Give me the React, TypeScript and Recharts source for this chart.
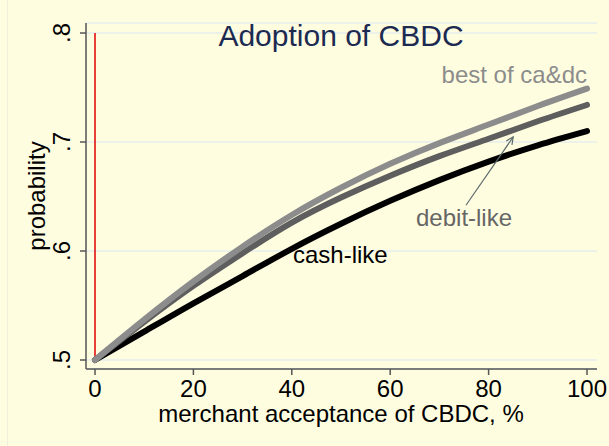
import { LineChart, Line, XAxis, YAxis, CartesianGrid, ReferenceLine } from 'recharts'

const acceptance = [0, 10, 20, 30, 40, 50, 60, 70, 80, 90, 100]
const cashLike = [0.5, 0.526, 0.552, 0.577, 0.602, 0.625, 0.646, 0.665, 0.682, 0.697, 0.71]
const debitLike = [0.5, 0.535, 0.568, 0.598, 0.626, 0.649, 0.669, 0.687, 0.703, 0.719, 0.734]
const bestOf = [0.5, 0.537, 0.572, 0.604, 0.633, 0.658, 0.68, 0.699, 0.716, 0.733, 0.749]

const xTicks = [0, 20, 40, 60, 80, 100]
const yTicks = [0.5, 0.6, 0.7, 0.8]

const data = acceptance.map((a, i) => ({
  acceptance: a,
  cash: cashLike[i],
  debit: debitLike[i],
  best: bestOf[i],
}))

const FONT = '"Liberation Sans", Arial, sans-serif'
const BG = '#FFFDE0'

const XTick = ({ x, y, payload }: any) => (
  <text x={x} y={y + 22} textAnchor="middle" fontSize={24} fontFamily={FONT} fill="#000">
    {payload.value}
  </text>
)

const YTick = ({ x, y, payload }: any) => (
  <text
    transform={`translate(${x - 10},${y}) rotate(-90)`}
    textAnchor="middle"
    fontSize={24}
    fontFamily={FONT}
    fill="#000"
  >
    {String(payload.value).replace(/^0/, '')}
  </text>
)

// arrow drawn from the segment end points given in data coords
const Arrow = (props: any) => {
  const { x1, y1, x2, y2 } = props
  const ang = Math.atan2(y2 - y1, x2 - x1)
  const len = 8
  const a1 = ang + Math.PI - 0.45
  const a2 = ang + Math.PI + 0.45
  return (
    <g stroke="#5b6b6b" strokeWidth={1.2} fill="none">
      <line x1={x1} y1={y1} x2={x2} y2={y2} />
      <polyline
        points={`${x2 + len * Math.cos(a1)},${y2 + len * Math.sin(a1)} ${x2},${y2} ${x2 + len * Math.cos(a2)},${y2 + len * Math.sin(a2)}`}
      />
    </g>
  )
}

export default function App() {
  return (
    <div style={{ position: 'absolute', left: 0, top: 0, width: 609, height: 446, background: BG }}>
      <div style={{ position: 'absolute', left: 7, top: 0, width: 1, height: 446, background: '#eef0dc' }} />
      <LineChart
        width={609}
        height={446}
        data={data}
        margin={{ top: 23, right: 12, bottom: 0, left: 0 }}
      >
        <CartesianGrid vertical={false} stroke="#e6ecec" strokeWidth={1.5} />
        <XAxis
          dataKey="acceptance"
          type="number"
          domain={[0, 100]}
          ticks={xTicks}
          padding={{ left: 9, right: 10 }}
          height={77}
          tickSize={6}
          tickMargin={0}
          stroke="#555"
          strokeWidth={1.5}
          tick={<XTick />}
          interval={0}
        />
        <YAxis
          type="number"
          domain={[0.5, 0.8]}
          ticks={yTicks}
          padding={{ top: 10, bottom: 9 }}
          width={86}
          tickSize={6}
          tickMargin={0}
          stroke="#555"
          strokeWidth={1.5}
          tick={<YTick />}
          interval={0}
        />
        <ReferenceLine
          segment={[{ x: 0, y: 0.5 }, { x: 0, y: 0.8 }]}
          stroke="#e00000"
          strokeWidth={1.5}
        />
        <Line
          dataKey="cash"
          type="natural"
          stroke="#000"
          strokeWidth={6}
          strokeLinecap="round"
          dot={false}
          isAnimationActive={false}
        />
        <Line
          dataKey="debit"
          type="natural"
          stroke="#5e5e5e"
          strokeWidth={6}
          strokeLinecap="round"
          dot={false}
          isAnimationActive={false}
        />
        <Line
          dataKey="best"
          type="natural"
          stroke="#8c8c8c"
          strokeWidth={6}
          strokeLinecap="round"
          dot={false}
          isAnimationActive={false}
        />
        <ReferenceLine
          segment={[{ x: 75.4, y: 0.642 }, { x: 85, y: 0.7046 }]}
          shape={<Arrow />}
        />
        <text x={341} y={46} textAnchor="middle" fontSize={30} fontFamily={FONT} fill="#1c2a52">
          Adoption of CBDC
        </text>
        <text x={587} y={83} textAnchor="end" fontSize={24} fontFamily={FONT} fill="#8c8c8c">
          best of ca&amp;dc
        </text>
        <text x={416} y={226} fontSize={24} fontFamily={FONT} fill="#666">
          debit-like
        </text>
        <text x={293} y={263} fontSize={24} fontFamily={FONT} fill="#000">
          cash-like
        </text>
        <text x={341} y={422} textAnchor="middle" fontSize={24} fontFamily={FONT} fill="#000">
          merchant acceptance of CBDC, %
        </text>
        <text
          transform="translate(45,196) rotate(-90)"
          textAnchor="middle"
          fontSize={24}
          fontFamily={FONT}
          fill="#000"
        >
          probability
        </text>
      </LineChart>
    </div>
  )
}
